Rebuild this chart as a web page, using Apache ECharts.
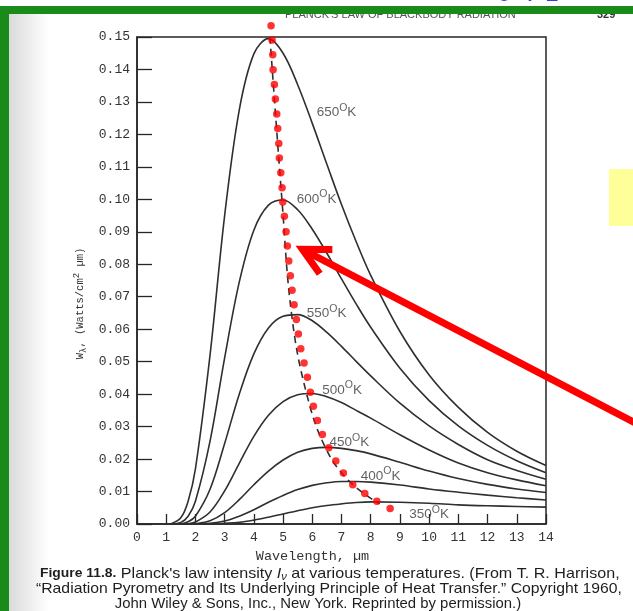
<!DOCTYPE html>
<html><head><meta charset="utf-8">
<script src="https://cdn.jsdelivr.net/npm/echarts@6/dist/echarts.min.js"></script>
<style>html,body{margin:0;padding:0;background:#fff}#c{width:633px;height:611px}</style>
</head><body><div id="c"></div>
<script>
// ---- data ----
const wavelengths = [1.15,1.5,1.75,2,2.5,3,3.5,4,4.5,5,5.5,6,6.5,7,7.5,8,9,10,11,12,13,14];
const temps = ['650','600','550','500','450','400','350'];
const w650 = [0,0.0019,0.0070,0.0170,0.0520,0.0950,0.1275,0.1448,0.1495,0.1450,0.1353,0.1234,0.1108,0.0984,0.0870,0.0766,0.0593,0.0459,0.0359,0.0282,0.0224,0.0180];
const w600 = [0,0.0005,0.0024,0.0070,0.0255,0.0512,0.0745,0.0905,0.0982,0.0998,0.0968,0.0908,0.0834,0.0755,0.0678,0.0606,0.0480,0.0380,0.0302,0.0242,0.0195,0.0158];
const w550 = [0,0.0001,0.0007,0.0024,0.0107,0.0248,0.0400,0.0524,0.0604,0.0640,0.0645,0.0626,0.0590,0.0547,0.0501,0.0456,0.0372,0.0302,0.0245,0.0198,0.0165,0.0138];
const w500 = [0,0,0.0001,0.0006,0.0037,0.0102,0.0187,0.0270,0.0335,0.0377,0.0398,0.0402,0.0392,0.0374,0.0350,0.0326,0.0275,0.0228,0.0188,0.0158,0.0136,0.0118];
const w450 = [0,0,0,0.0001,0.0010,0.0035,0.0075,0.0121,0.0163,0.0197,0.0221,0.0233,0.0236,0.0233,0.0226,0.0216,0.0190,0.0163,0.0140,0.0122,0.0108,0.0097];
const w400 = [0,0,0,0,0.0002,0.0009,0.0024,0.0044,0.0067,0.0088,0.0106,0.0119,0.0127,0.0131,0.0131,0.0129,0.0120,0.0108,0.0098,0.0089,0.0081,0.0074];
const w350 = [0,0,0,0,0,0.0002,0.0005,0.0012,0.0021,0.0031,0.0041,0.0050,0.0057,0.0062,0.0066,0.0068,0.0067,0.0064,0.0059,0.0056,0.0054,0.0052];
const curves = [w650,w600,w550,w500,w450,w400,w350];

// curve label anchor points (left edge of each label)
const labelX = [6.15,5.47,5.81,6.34,6.59,7.66,9.32];
const labelY = [0.1268,0.1001,0.0648,0.0413,0.0251,0.0148,0.0030];

// black dashed locus of maxima
const peakX = [4.55,4.96,5.30,5.80,6.45,7.25,8.30];
const peakY = [0.1500,0.1000,0.0640,0.0403,0.0235,0.0133,0.0062];

// red dots
const dotX = [4.589,4.623,4.647,4.658,4.702,4.736,4.784,4.818,4.853,4.873,4.921,4.966,4.990,5.045,5.103,5.147,5.195,5.250,5.308,5.377,5.455,5.524,5.606,5.719,5.832,5.935,6.038,6.175,6.346,6.565,6.805,7.065,7.387,7.798,8.209,8.664];
const dotY = [0.1535,0.1491,0.1445,0.1399,0.1354,0.1309,0.1263,0.1218,0.1172,0.1127,0.1082,0.1036,0.0992,0.0948,0.0900,0.0856,0.0810,0.0765,0.0720,0.0675,0.0630,0.0585,0.0540,0.0496,0.0452,0.0406,0.0363,0.0319,0.0276,0.0235,0.0194,0.0157,0.0121,0.0094,0.0070,0.0048];

const xTicks = [0,1,2,3,4,5,6,7,8,9,10,11,12,13,14];
const arrowTip = [5.66, 0.0846];
const arrowTail = [17.3, 0.0300];

const chart = echarts.init(document.getElementById('c'), null, {renderer:'canvas'});
const mono = 'Liberation Mono';
const sans = 'Liberation Sans';
const ink = '#262626';

const series = curves.map((vals, i) => ({
  type:'line', name: temps[i] + 'K', silent:true, symbol:'none', smooth:0.35,
  data: wavelengths.map((x, j) => [x, vals[j]]),
  lineStyle:{color:'#2f2f2f', width:1.6}, z:3
}));
series.push({
  type:'line', silent:true, symbol:'none', smooth:0.4,
  data: peakX.map((x,i)=>[x, peakY[i]]),
  lineStyle:{color:'#2f2f2f', width:1.6, type:[7,5]}, z:4
});
series.push({
  type:'scatter', silent:true, clip:false, symbolSize:0,
  data: labelX.map((x,i)=>[x, labelY[i]]),
  label:{show:true, position:'right', distance:0,
    formatter: p => '{t|' + temps[p.dataIndex] + '}{o|O}{t|K}',
    rich:{ t:{fontFamily:sans, fontSize:13.5, color:'#3a3a3a'}, o:{fontFamily:sans, fontSize:10.5, color:'#3a3a3a', padding:[0,0,9,0]} }
  }, z:5
});
series.push({
  type:'scatter', silent:true, clip:false, symbol:'circle', symbolSize:7.5,
  data: dotX.map((x,i)=>[x, dotY[i]]),
  itemStyle:{color:'#ff0000'}, z:6
});

const option = {
  animation:false,
  backgroundColor:'#ffffff',
  grid:{left:137, right:87, top:37, bottom:87, show:true, borderColor:ink, borderWidth:1.5, backgroundColor:'transparent'},
  xAxis:{type:'value', min:0, max:14, interval:1,
    name:'Wavelength, \u00b5m', nameLocation:'middle', nameGap:25,
    nameTextStyle:{fontFamily:mono, fontSize:13.5, color:'#333', padding:[0,58,0,0]},
    axisLine:{show:true, lineStyle:{color:ink, width:1.5}},
    axisTick:{show:true, inside:true, length:10, lineStyle:{color:ink, width:1.3}},
    axisLabel:{fontFamily:mono, fontSize:13, color:'#333', margin:7, formatter: v => String(xTicks[Math.round(v)])},
    splitLine:{show:false}},
  yAxis:{type:'value', min:0, max:0.15, interval:0.01,
    name:'W{sub|\u03bb}, (Watts/cm{sup|2} \u00b5m)', nameLocation:'middle', nameGap:30, nameRotate:90,
    nameTextStyle:{fontFamily:mono, fontSize:10.5, color:'#333', padding:[0,46,0,0],
      rich:{sub:{fontFamily:mono, fontSize:9, color:'#333', padding:[6,0,0,0]}, sup:{fontFamily:mono, fontSize:9, color:'#333', padding:[0,0,8,0]}}},
    axisLine:{show:true, lineStyle:{color:ink, width:1.5}},
    axisTick:{show:true, inside:true, length:15, lineStyle:{color:ink, width:1.3}},
    axisLabel:{fontFamily:mono, fontSize:13, color:'#333', margin:7, formatter: v => v.toFixed(2)},
    splitLine:{show:false}},
  series: series
};
chart.setOption(option);

// annotations
const tip = chart.convertToPixel({gridIndex:0}, arrowTip);
const tail = chart.convertToPixel({gridIndex:0}, arrowTail);
const ang = Math.atan2(tail[1]-tip[1], tail[0]-tip[0]);
const barbLen = 30, spread = 27*Math.PI/180;
const b1 = [tip[0] + barbLen*Math.cos(ang - spread), tip[1] + barbLen*Math.sin(ang - spread)];
const b2 = [tip[0] + barbLen*Math.cos(ang + spread), tip[1] + barbLen*Math.sin(ang + spread)];

const capStyle = {fontFamily:sans, fontSize:14.5, fill:'#1e1e1e'};
chart.setOption({graphic:[
  {type:'rect', shape:{x:9, y:14, width:40, height:597}, silent:true, z:0,
    style:{fill:new echarts.graphic.LinearGradient(0,0,1,0,[{offset:0,color:'rgba(150,150,150,0.35)'},{offset:1,color:'rgba(150,150,150,0)'}])}},
  {type:'text', x:285, y:9, silent:true, z:10, style:{text:"PLANCK'S LAW OF BLACKBODY RADIATION", fontFamily:sans, fontSize:11, fill:'#555'}},
  {type:'text', x:597, y:9, silent:true, z:10, style:{text:'329', fontFamily:sans, fontSize:11, fontWeight:'bold', fill:'#333'}},
  {type:'text', x:497, y:-22, silent:true, z:10, style:{text:'0 . 1', fontFamily:'DejaVu Serif', fontStyle:'italic', fontSize:30, fill:'#3340c8'}},
  {type:'rect', shape:{x:0, y:6, width:633, height:8}, silent:true, z:20, style:{fill:'#1a8a1a'}},
  {type:'rect', shape:{x:0, y:6, width:9, height:605}, silent:true, z:20, style:{fill:'#1a8a1a'}},
  {type:'rect', shape:{x:609, y:169, width:24, height:57}, silent:true, z:15, style:{fill:'#ffff99'}},
  {type:'polyline', shape:{points:[tip, tail]}, silent:true, z:30, style:{stroke:'#ff0000', lineWidth:7, fill:null}},
  {type:'polyline', shape:{points:[b1, tip, b2]}, silent:true, z:30, style:{stroke:'#ff0000', lineWidth:7, fill:null, lineJoin:'miter'}},
  {type:'text', x:40, y:566, scaleX:1.11, silent:true, z:10, style:{
    text:"{b|Figure 11.8.} Planck's law intensity {i|I}{s|\u03bd} at various temperatures. (From T. R. Harrison,",
    fontFamily:sans, fontSize:14.5, fill:'#1e1e1e',
    rich:{b:{fontFamily:sans, fontSize:12.5, fontWeight:'bold', fill:'#1e1e1e'}, i:{fontFamily:sans, fontSize:14.5, fontStyle:'italic', fill:'#1e1e1e'}, s:{fontFamily:sans, fontSize:10, fontStyle:'italic', fill:'#1e1e1e', padding:[6,0,0,0]}}}},
  {type:'text', x:36, y:581, scaleX:1.086, silent:true, z:10, style:Object.assign({text:'\u201cRadiation Pyrometry and Its Underlying Principle of Heat Transfer.\u201d Copyright 1960,'}, capStyle)},
  {type:'text', x:318, y:596, scaleX:1.026, silent:true, z:10, style:Object.assign({text:'John Wiley & Sons, Inc., New York. Reprinted by permission.)', align:'center'}, capStyle)}
]});
</script>
</body></html>
